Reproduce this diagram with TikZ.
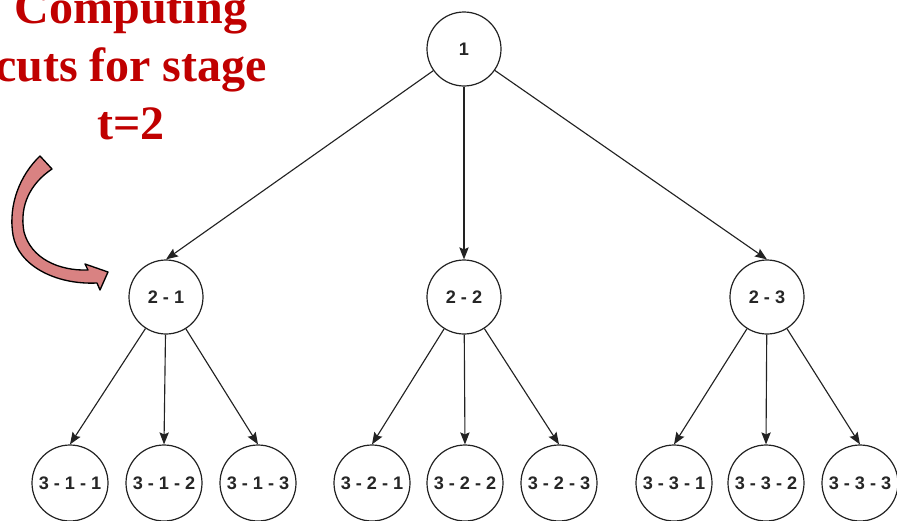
\documentclass[tikz,border=0pt]{standalone}
\usepackage{fontspec}
\setmainfont{Liberation Serif}
\newfontfamily\labelfont{Liberation Sans}
\usetikzlibrary{arrows.meta}
\definecolor{titlered}{HTML}{C00000}
\definecolor{ribbon}{HTML}{D98282}
\definecolor{edgegray}{HTML}{222222}
\tikzset{
  treenode/.style={circle, draw=edgegray, line width=0.9pt, fill=white,
    minimum size=55.5pt, inner sep=0pt,
    font=\labelfont\bfseries\fontsize{13.6}{15}\selectfont, text=black!85},
  leafnode/.style={treenode, minimum size=57pt},
  treeedge/.style={draw=edgegray, line width=0.85pt,
    -{Stealth[length=9pt,width=7pt,inset=1.5pt]}},
  titletext/.style={anchor=base, text=titlered,
    font=\bfseries\fontsize{36}{43}\selectfont, inner sep=0pt},
}
\begin{document}
\begin{tikzpicture}[x=0.75pt, y=-0.75pt]
  \useasboundingbox (0,0) rectangle (897,521);
  \begin{scope}
  \clip (0,0) rectangle (897,521);

  % caption
  \node[titletext] (title1) at (131,23) {Computing};
  \node[titletext] (title2) at (131,81) {cuts for stage};
  \node[titletext] (title3) at (131,139) {t=2};

  % curved ribbon arrow
  \filldraw[fill=ribbon, draw=black, line width=1pt, line join=round]
    (40,156) .. controls (20,175) and (8,205) .. (13,235)
    .. controls (18,265) and (55,285) .. (97,283)
    -- (100,290) -- (108,272) -- (85,264) -- (88,270)
    .. controls (58,271) and (31,258) .. (24,232)
    .. controls (19,205) and (31,183) .. (52,169) -- cycle;

  % tree nodes
  \node[treenode] (n1) at (464,49) {1};
  \node[treenode] (n21) at (166,297) {2 - 1};
  \node[treenode] (n22) at (464,297) {2 - 2};
  \node[treenode] (n23) at (767,297) {2 - 3};

  \node[leafnode] (n311) at (70,483) {3 - 1 - 1};
  \node[leafnode] (n312) at (164,483) {3 - 1 - 2};
  \node[leafnode] (n313) at (258,483) {3 - 1 - 3};
  \node[leafnode] (n321) at (372,483) {3 - 2 - 1};
  \node[leafnode] (n322) at (465,483) {3 - 2 - 2};
  \node[leafnode] (n323) at (559,483) {3 - 2 - 3};
  \node[leafnode] (n331) at (674,483) {3 - 3 - 1};
  \node[leafnode] (n332) at (766,483) {3 - 3 - 2};
  \node[leafnode] (n333) at (860,483) {3 - 3 - 3};

  % edges
  \foreach \c in {n21,n22,n23}
    \draw[treeedge] (n1) -- (\c.north);
  \foreach \c in {n311,n312,n313}
    \draw[treeedge] (n21) -- (\c.north);
  \foreach \c in {n321,n322,n323}
    \draw[treeedge] (n22) -- (\c.north);
  \foreach \c in {n331,n332,n333}
    \draw[treeedge] (n23) -- (\c.north);
  \end{scope}
\end{tikzpicture}
\end{document}
